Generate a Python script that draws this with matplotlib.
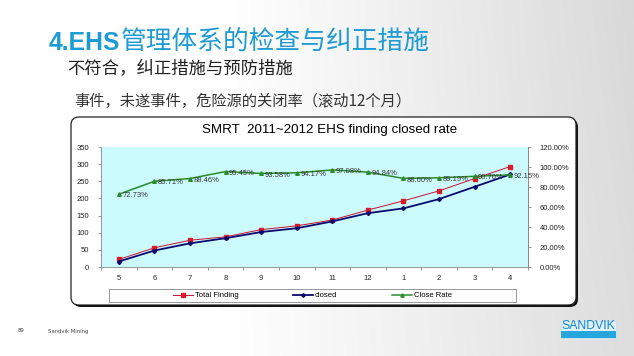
import matplotlib
matplotlib.use('Agg')
import matplotlib.pyplot as plt
import numpy as np
from matplotlib.patches import FancyBboxPatch, Rectangle
from matplotlib.lines import Line2D
from matplotlib.ticker import FixedLocator, NullFormatter

# ---------------- data ----------------
months = ['5', '6', '7', '8', '9', '10', '11', '12', '1', '2', '3', '4']
total_finding = [22, 56, 78, 88, 109, 120, 137, 166, 193, 222, 258, 293]
closed = [16, 48, 69, 84, 102, 113, 133, 157, 171, 198, 234, 270]
close_rate = [72.73, 85.71, 88.46, 95.45, 93.58, 94.17, 97.08, 94.84, 88.60, 89.19, 90.70, 92.15]
left_ticks = [0, 50, 100, 150, 200, 250, 300, 350]
right_ticks = [0, 20, 40, 60, 80, 100, 120]
series_names = ['Total Finding', 'closed', 'Close Rate']
chart_title = 'SMRT  2011~2012 EHS finding closed rate'

W, H = 634, 356
fig = plt.figure(figsize=(W / 100, H / 100), dpi=100)

# ---------------- slide background ----------------
bg = fig.add_axes([0, 0, 1, 1])
bg.set_xlim(0, W)
bg.set_ylim(H, 0)
bg.axis('off')
xs = np.linspace(0, 1, 400)
ys = np.linspace(0, 1, 200)
X, Y = np.meshgrid(xs, ys)
g = np.clip((X - 0.35) / 0.65, 0, 1) ** 1.1
g = g * (0.6 + 0.4 * (1 - Y * 0.3))
val = 1 - 0.15 * g
img = np.dstack([val, val, val])
bg.imshow(img, extent=[0, W, H, 0], aspect='auto', zorder=0)

# slide texts
CJK = ['Noto Sans CJK SC', 'DejaVu Sans']
t1 = bg.text(49, 43, '4.EHS', fontsize=17.8, fontweight='bold', color='#1f9bd4',
             family=['Liberation Sans'], va='center', ha='left', zorder=2)
fig.canvas.draw()
bb = t1.get_window_extent()
x_end = bb.x1
bg.text(x_end + 0.5, 41.5, '管理体系的检查与纠正措施', fontsize=18.5, color='#1f9bd4',
        family=CJK, va='center', ha='left', zorder=2)
bg.text(67, 68, '不符合，纠正措施与预防措施', fontsize=12.5, color='#222222',
        family=CJK, fontweight='light', va='center', ha='left', zorder=2)
bg.text(74, 101, '事件，未遂事件，危险源的关闭率（滚动12个月）', fontsize=11, color='#333333',
        family=CJK, fontweight='light', va='center', ha='left', zorder=2)
bg.text(18, 331, '89', fontsize=3.8, color='#444444', va='center', ha='left', zorder=2)
bg.text(48, 331, 'Sandvik Mining', fontsize=3.8, color='#444444', va='center', ha='left', zorder=2)

# Sandvik logo
bg.add_patch(Rectangle((561, 321), 55, 17, facecolor='#dff2fb', edgecolor='#bfe3f5', lw=0.6, zorder=2))
bg.add_patch(Rectangle((561, 331), 55, 7, facecolor='#27a6de', edgecolor='none', zorder=3))
bg.text(588.5, 326, 'SANDVIK', fontsize=8.8, color='#1a86c8',
        family=['Liberation Sans Narrow', 'Liberation Sans'], va='center', ha='center', zorder=4)

# chart box with shadow
bx0, by0, bx1, by1 = 71, 117, 576, 305
bg.add_patch(FancyBboxPatch((bx0 + 2, by0 + 2), bx1 - bx0, by1 - by0,
                            boxstyle='round,pad=0,rounding_size=8',
                            facecolor='#111111', edgecolor='none', zorder=3))
bg.add_patch(FancyBboxPatch((bx0, by0), bx1 - bx0, by1 - by0,
                            boxstyle='round,pad=0,rounding_size=8',
                            facecolor='white', edgecolor='#222222', lw=0.9, zorder=4))
# legend frame
bg.add_patch(Rectangle((109, 289), 407, 13, facecolor='white', edgecolor='#888888', lw=0.6, zorder=5))
bg.text(330, 130, chart_title, fontsize=9.6, color='black', family=['Liberation Sans'],
        va='center', ha='center', zorder=5)

# ---------------- main chart ----------------
L, R, T, B = 101, 528, 147, 267
ax = fig.add_axes([L / W, 1 - B / H, (R - L) / W, (B - T) / H], zorder=6)
ax.set_facecolor('#ccfbfd')
x = np.arange(len(months))
ax.set_xlim(-0.5, len(months) - 0.5)
ax.set_ylim(0, 350)

ax.spines['top'].set_visible(False)
for s in ['left', 'bottom', 'right']:
    ax.spines[s].set_color('#888888')
    ax.spines[s].set_linewidth(0.6)

TF = 5.5
ax.set_yticks(left_ticks)
ax.set_yticklabels([str(v) for v in left_ticks], fontsize=TF, family='Liberation Sans', color='#222222')
ax.set_xticks(x)
ax.set_xticklabels(months, fontsize=TF, family='Liberation Sans', color='#222222')
ax.xaxis.set_minor_locator(FixedLocator(np.arange(-0.5, len(months), 1.0)))
ax.tick_params(axis='x', which='major', length=0, pad=6)
ax.tick_params(axis='x', which='minor', length=2.5, color='#888888', width=0.6)
ax.tick_params(axis='y', length=2.5, color='#888888', width=0.6, pad=6)

l1, = ax.plot(x, total_finding, color='#c8102e', lw=0.7, marker='s', ms=3.2,
              markerfacecolor='#d81b2a', markeredgecolor='#d81b2a', zorder=3)
l2, = ax.plot(x, closed, color='#0a0a6e', lw=1.3, marker='D', ms=2.0,
              markerfacecolor='#0a0a6e', markeredgecolor='#0a0a6e', zorder=4)

ax2 = ax.twinx()
ax2.set_ylim(0, 120)
ax2.set_yticks(right_ticks)
ax2.set_yticklabels([f'{v:.2f}%' for v in right_ticks], fontsize=TF, family='Liberation Sans', color='#222222')
ax2.tick_params(axis='y', length=2.5, color='#888888', width=0.6, pad=6)
for s in ['top', 'left', 'bottom']:
    ax2.spines[s].set_visible(False)
ax2.spines['right'].set_color('#888888')
ax2.spines['right'].set_linewidth(0.6)

l3, = ax2.plot(x, close_rate, color='#2b8a2b', lw=1.1, marker='^', ms=2.6,
               markerfacecolor='#2b8a2b', markeredgecolor='#2b8a2b', zorder=5)
for xi, v in zip(x, close_rate):
    ax2.annotate(f'{v:.2f}%', (xi, v), xytext=(2.5, -1.2), textcoords='offset points',
                 fontsize=TF, family='Liberation Sans', color='#333333',
                 va='center', ha='left', annotation_clip=False, zorder=6)

# legend
leg = fig.legend([l1, l2, l3], series_names, ncol=3, loc='center',
                 bbox_to_anchor=(312.5 / W, 1 - 295.5 / H), frameon=False,
                 prop={'family': 'Liberation Sans', 'size': TF},
                 handlelength=2.6, handletextpad=0.2, columnspacing=7.2,
                 markerscale=0.9)
leg.set_zorder(10)

fig.savefig('out.png', dpi=100)
